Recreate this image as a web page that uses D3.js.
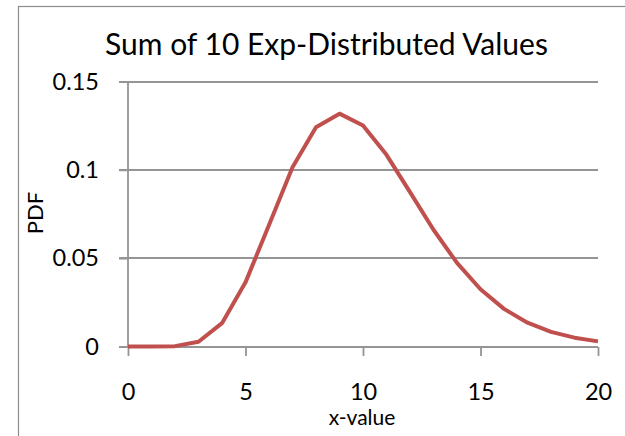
<!DOCTYPE html>
<html><head><meta charset="utf-8">
<script src="https://cdn.jsdelivr.net/npm/d3@7"></script>
<style>
html,body{margin:0;padding:0;background:#fff;}
svg{display:block;font-family:Lato,"Open Sans",sans-serif;}
</style></head>
<body>
<svg id="c" width="625" height="436"></svg>
<script>
const xValues = [0,1,2,3,4,5,6,7,8,9,10,11,12,13,14,15,16,17,18,19,20];
const pdfValues = [0,0.0000,0.0002,0.0027,0.0132,0.0363,0.0688,0.1014,0.1241,0.1318,0.1251,0.1085,0.0874,0.0661,0.0473,0.0324,0.0213,0.0135,0.0083,0.0050,0.0029];
const xTicks = [0,5,10,15,20];
const yTicks = [0,0.05,0.1,0.15];
const yTickLabels = ["0","0.05","0.1","0.15"];
const title = "Sum of 10 Exp-Distributed Values";
const xTitle = "x-value";
const yTitle = "PDF";

const svg = d3.select("#c");
const x = d3.scaleLinear().domain([0,20]).range([128,598]);
const y = d3.scaleLinear().domain([0,0.15]).range([346.5,81.5]);
const axisColor = "#959595";
const font = "Lato,'Open Sans',sans-serif";

// outer frame
svg.append("rect").attr("x",18.5).attr("y",6.5).attr("width",640).attr("height",460)
  .attr("fill","none").attr("stroke","#8c8c8c").attr("stroke-width",1.2);

// gridlines
svg.append("g").selectAll("line").data(yTicks.filter(d=>d>0)).join("line")
  .attr("x1",119).attr("x2",598)
  .attr("y1",d=>Math.round(y(d))).attr("y2",d=>Math.round(y(d)))
  .attr("stroke",axisColor).attr("stroke-width",1.8);

// y axis
const ya = svg.append("g").attr("transform","translate(128,0)")
  .call(d3.axisLeft(y).tickValues(yTicks).tickFormat((d,i)=>yTickLabels[i]).tickSize(9).tickPadding(20));
ya.select(".domain").attr("stroke",axisColor).attr("stroke-width",1.8).attr("d",`M0,${y(0.15)}V${y(0)}`);
ya.selectAll(".tick line").attr("stroke",axisColor).attr("stroke-width",1.8);
ya.selectAll("text").attr("font-size",23.5).attr("fill","#000").attr("font-family",font);

// x axis
const xa = svg.append("g").attr("transform",`translate(0,${Math.round(y(0))})`)
  .call(d3.axisBottom(x).tickValues(xTicks).tickSize(9).tickPadding(27));
xa.select(".domain").attr("stroke",axisColor).attr("stroke-width",1.8).attr("d",`M119,0H${x(20)}`);
xa.selectAll(".tick line").attr("stroke",axisColor).attr("stroke-width",1.8);
xa.selectAll("text").attr("font-size",23.5).attr("fill","#000").attr("font-family",font);

// line
const line = d3.line().x((d,i)=>x(xValues[i])).y(d=>y(d)).curve(d3.curveLinear);
svg.append("path").datum(pdfValues).attr("d",line)
  .attr("fill","none").attr("stroke","#C0504D").attr("stroke-width",4).attr("stroke-linejoin","round");

// titles
svg.append("text").attr("x",326.5).attr("y",55).attr("text-anchor","middle")
  .attr("font-size",30).attr("fill","#000").text(title);
svg.append("text").attr("x",362).attr("y",425).attr("text-anchor","middle")
  .attr("font-size",21).attr("fill","#000").text(xTitle);
svg.append("text").attr("transform","translate(43,213) rotate(-90)").attr("text-anchor","middle")
  .attr("font-size",22).attr("fill","#000").text(yTitle);
</script>
</body></html>
